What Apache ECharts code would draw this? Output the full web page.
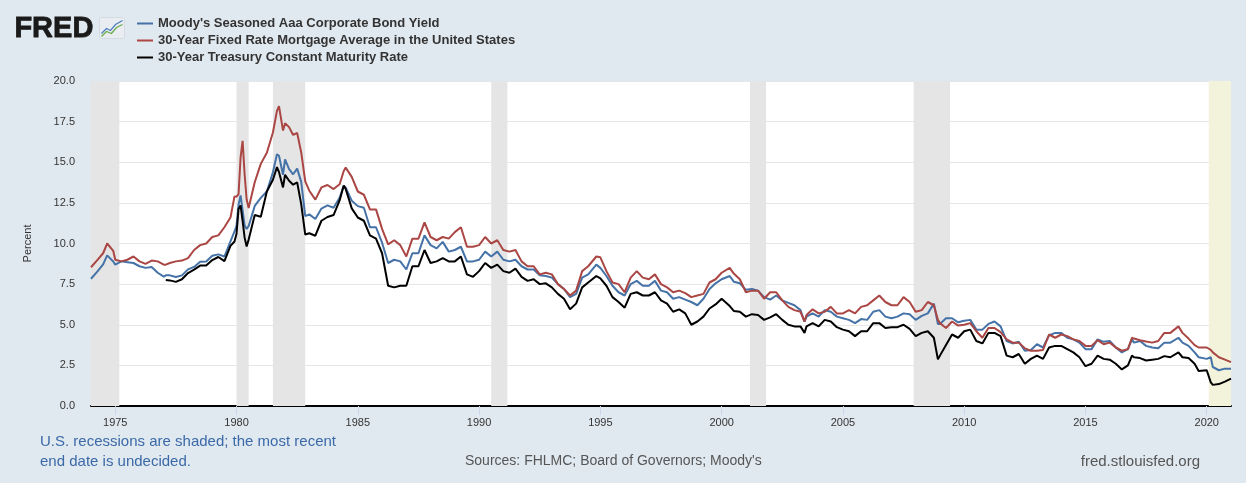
<!DOCTYPE html>
<html>
<head>
<meta charset="utf-8">
<title>FRED - Aaa, mortgage and 30-year treasury rates</title>
<script src="https://cdn.jsdelivr.net/npm/echarts@6.0.0/dist/echarts.min.js"></script>
<style>
  html, body { margin: 0; padding: 0; background: #e1e9f0; }
  #main { width: 1246px; height: 483px; }
</style>
</head>
<body>
<div id="main"></div>
<script>
// observation months (one line per year)
var dates = [
  '1974-01','1974-04','1974-07','1974-09','1974-12',
  '1975-01','1975-04','1975-07','1975-10',
  '1976-01','1976-04','1976-07','1976-10',
  '1977-01','1977-02','1977-04','1977-07','1977-10',
  '1978-01','1978-04','1978-07','1978-10',
  '1979-01','1979-04','1979-07','1979-10','1979-12',
  '1980-01','1980-02','1980-03','1980-04','1980-05','1980-06','1980-07','1980-10',
  '1981-01','1981-04','1981-07','1981-09','1981-10','1981-12',
  '1982-01','1982-03','1982-05','1982-07','1982-09','1982-11',
  '1983-01','1983-04','1983-07','1983-10',
  '1984-01','1984-04','1984-06','1984-07','1984-10',
  '1985-01','1985-04','1985-07','1985-10',
  '1986-01','1986-04','1986-07','1986-10',
  '1987-01','1987-04','1987-07','1987-10',
  '1988-01','1988-04','1988-07','1988-10',
  '1989-01','1989-04','1989-07','1989-10',
  '1990-01','1990-04','1990-07','1990-10',
  '1991-01','1991-04','1991-07','1991-10',
  '1992-01','1992-04','1992-07','1992-10',
  '1993-01','1993-04','1993-07','1993-10',
  '1994-01','1994-04','1994-07','1994-11',
  '1995-01','1995-04','1995-07','1995-10',
  '1996-01','1996-04','1996-07','1996-10',
  '1997-01','1997-04','1997-07','1997-10',
  '1998-01','1998-04','1998-07','1998-10',
  '1999-01','1999-04','1999-07','1999-10',
  '2000-01','2000-05','2000-07','2000-10',
  '2001-01','2001-04','2001-07','2001-10',
  '2002-01','2002-04','2002-07','2002-10',
  '2003-01','2003-04','2003-06','2003-07','2003-10',
  '2004-01','2004-04','2004-07','2004-10',
  '2005-01','2005-04','2005-07','2005-10',
  '2006-01','2006-04','2006-07','2006-10',
  '2007-01','2007-04','2007-07','2007-10',
  '2008-01','2008-04','2008-07','2008-10','2008-12',
  '2009-01','2009-04','2009-07','2009-10',
  '2010-01','2010-04','2010-07','2010-10',
  '2011-01','2011-04','2011-07','2011-10',
  '2012-01','2012-04','2012-07','2012-10',
  '2013-01','2013-04','2013-07','2013-10',
  '2014-01','2014-04','2014-07','2014-10',
  '2015-01','2015-04','2015-07','2015-10',
  '2016-01','2016-04','2016-07','2016-10','2016-12',
  '2017-01','2017-04','2017-07','2017-10',
  '2018-01','2018-04','2018-07','2018-11',
  '2019-01','2019-04','2019-07','2019-09',
  '2020-01','2020-03','2020-04','2020-07','2020-10',
  '2021-01'
]

// Moody's Seasoned Aaa Corporate Bond Yield
var aaa = [
  7.83, 8.25, 8.72, 9.27, 8.89,
  8.70, 8.90, 8.85, 8.80,
  8.60, 8.50, 8.55, 8.20,
  7.96, 8.04, 8.04, 7.94, 8.04,
  8.41, 8.56, 8.88, 8.89,
  9.25, 9.33, 9.20, 10.13, 10.74,
  11.09, 12.38, 12.96, 12.04, 11.10, 10.90, 11.07, 12.31,
  12.81, 13.20, 14.38, 15.49, 15.40, 14.23,
  15.18, 14.58, 14.26, 14.61, 13.79, 11.68,
  11.79, 11.51, 12.15, 12.35,
  12.20, 12.81, 13.55, 13.44, 12.63,
  12.30, 12.20, 11.00, 11.00,
  10.05, 8.80, 9.00, 8.90,
  8.40, 9.40, 9.40, 10.50,
  9.90, 9.70, 10.10, 9.50,
  9.60, 9.80, 8.90, 8.90,
  9.00, 9.50, 9.20, 9.50,
  9.00, 8.90, 9.00, 8.60,
  8.40, 8.40, 8.05, 8.00,
  7.90, 7.50, 7.20, 6.70,
  6.90, 7.90, 8.10, 8.70,
  8.50, 8.00, 7.40, 7.00,
  6.80, 7.50, 7.70, 7.40,
  7.40, 7.70, 7.10, 7.00,
  6.60, 6.70, 6.55, 6.40,
  6.20, 6.60, 7.20, 7.55,
  7.80, 8.00, 7.65, 7.55,
  7.15, 7.20, 7.10, 6.70,
  6.55, 6.80, 6.50, 6.35,
  6.20, 5.90, 5.20, 5.50, 5.70,
  5.50, 5.90, 5.80, 5.50,
  5.40, 5.30, 5.10, 5.35,
  5.30, 5.80, 5.90, 5.50,
  5.40, 5.50, 5.70, 5.65,
  5.30, 5.55, 5.70, 6.30, 5.05,
  5.05, 5.40, 5.40, 5.15,
  5.25, 5.30, 4.70, 4.70,
  5.05, 5.20, 4.90, 4.00,
  3.85, 3.95, 3.40, 3.45,
  3.80, 3.60, 4.35, 4.50,
  4.50, 4.20, 4.10, 3.90,
  3.50, 3.50, 4.10, 3.95,
  4.00, 3.60, 3.30, 3.50, 4.10,
  3.90, 4.00, 3.70, 3.60,
  3.55, 3.90, 3.90, 4.20,
  3.90, 3.70, 3.30, 3.00,
  2.90, 3.00, 2.40, 2.20, 2.30,
  2.30
]

// 30-Year Fixed Rate Mortgage Average
var mortgage = [
  8.54, 8.96, 9.40, 10.00, 9.55,
  9.00, 8.90, 9.00, 9.20,
  8.90, 8.75, 8.95, 8.90,
  8.70, 8.70, 8.80, 8.90, 8.95,
  9.10, 9.60, 9.90, 10.00,
  10.40, 10.50, 11.00, 11.60, 12.90,
  12.88, 13.04, 15.28, 16.32, 14.26, 12.71, 12.19, 13.77,
  14.90, 15.58, 16.83, 18.16, 18.45, 16.95,
  17.40, 17.16, 16.68, 16.80, 15.61, 13.82,
  13.25, 12.70, 13.45, 13.60,
  13.35, 13.65, 14.45, 14.67, 14.10,
  13.20, 13.00, 12.10, 12.10,
  10.90, 9.95, 10.20, 9.90,
  9.20, 10.30, 10.30, 11.30,
  10.40, 10.20, 10.40, 10.30,
  10.70, 11.00, 9.80, 9.80,
  9.90, 10.40, 10.00, 10.20,
  9.60, 9.50, 9.60, 8.90,
  8.60, 8.60, 8.10, 8.20,
  8.10, 7.50, 7.20, 6.80,
  7.10, 8.30, 8.60, 9.20,
  9.15, 8.30, 7.60, 7.50,
  7.00, 7.90, 8.30, 7.90,
  7.80, 8.10, 7.50, 7.30,
  7.00, 7.10, 6.95, 6.70,
  6.80, 6.90, 7.60, 7.80,
  8.20, 8.50, 8.15, 7.80,
  7.00, 7.10, 7.10, 6.60,
  7.00, 7.00, 6.50, 6.10,
  5.90, 5.80, 5.20, 5.60, 5.95,
  5.70, 5.80, 6.10, 5.70,
  5.70, 5.90, 5.70, 6.10,
  6.20, 6.50, 6.80, 6.40,
  6.20, 6.20, 6.70, 6.40,
  5.80, 5.90, 6.40, 6.20, 5.30,
  5.10, 4.80, 5.20, 4.95,
  5.00, 5.10, 4.60, 4.20,
  4.80, 4.80, 4.55, 4.10,
  3.90, 3.90, 3.55, 3.40,
  3.40, 3.45, 4.40, 4.20,
  4.40, 4.30, 4.10, 4.00,
  3.70, 3.70, 4.05, 3.80,
  3.90, 3.60, 3.40, 3.50, 4.20,
  4.15, 4.05, 3.97, 3.90,
  4.00, 4.50, 4.50, 4.90,
  4.50, 4.15, 3.75, 3.60,
  3.60, 3.45, 3.30, 3.00, 2.85,
  2.70
]

// 30-Year Treasury Constant Maturity Rate (starts Feb 1977)
var treasury = [
  null, null, null, null, null,
  null, null, null, null,
  null, null, null, null,
  null, 7.75, 7.73, 7.64, 7.80,
  8.18, 8.39, 8.64, 8.64,
  8.98, 9.17, 8.92, 9.85, 10.12,
  10.60, 12.13, 12.34, 11.40, 10.36, 9.81, 10.24, 11.75,
  11.65, 13.20, 13.92, 14.70, 14.40, 13.45,
  14.22, 13.86, 13.62, 13.76, 12.42, 10.55,
  10.63, 10.48, 11.40, 11.63,
  11.75, 12.65, 13.56, 13.36, 12.16,
  11.60, 11.40, 10.50, 10.30,
  9.40, 7.40, 7.30, 7.40,
  7.40, 8.60, 8.60, 9.60,
  8.80, 8.90, 9.10, 8.90,
  8.90, 9.20, 8.10, 7.95,
  8.30, 8.80, 8.50, 8.70,
  8.30, 8.20, 8.45, 7.95,
  7.70, 7.80, 7.50, 7.55,
  7.30, 6.90, 6.60, 5.95,
  6.30, 7.30, 7.60, 8.00,
  7.85, 7.40, 6.70, 6.40,
  6.05, 6.90, 7.00, 6.80,
  6.80, 7.00, 6.50, 6.30,
  5.80, 5.95, 5.70, 5.00,
  5.20, 5.50, 6.00, 6.25,
  6.60, 6.15, 5.85, 5.80,
  5.50, 5.65, 5.60, 5.30,
  5.45, 5.65, 5.30, 5.00,
  4.90, 4.90, 4.50, 4.90, 5.10,
  4.90, 5.30, 5.20, 4.85,
  4.70, 4.60, 4.30, 4.60,
  4.60, 5.10, 5.10, 4.80,
  4.85, 4.85, 5.00, 4.75,
  4.30, 4.50, 4.60, 4.20, 2.87,
  3.10, 3.75, 4.40, 4.20,
  4.60, 4.70, 4.00, 3.85,
  4.50, 4.50, 4.30, 3.10,
  3.00, 3.20, 2.60, 2.90,
  3.10, 2.90, 3.60, 3.70,
  3.70, 3.50, 3.30, 3.00,
  2.45, 2.60, 3.10, 2.90,
  2.85, 2.60, 2.25, 2.50, 3.10,
  3.00, 2.95, 2.80, 2.85,
  2.90, 3.07, 3.00, 3.30,
  3.00, 2.95, 2.60, 2.15,
  2.20, 1.45, 1.30, 1.35, 1.50,
  1.68
]

// US recessions [start, end]; the last one has no end date yet
var recessions = [
  ['1973-11', '1975-03'],
  ['1980-01', '1980-07'],
  ['1981-07', '1982-11'],
  ['1990-07', '1991-03'],
  ['2001-03', '2001-11'],
  ['2007-12', '2009-06'],
  ['2020-02', '2021-01']
]

var tickYears = [1975, 1980, 1985, 1990, 1995, 2000, 2005, 2010, 2015, 2020]

var seriesNames = [
  "Moody's Seasoned Aaa Corporate Bond Yield",
  '30-Year Fixed Rate Mortgage Average in the United States',
  '30-Year Treasury Constant Maturity Rate'
]

// 'YYYY-MM' -> fractional year for the x value axis
function yearOf(s) {
  var p = s.split('-')
  return +p[0] + (+p[1] - 1) / 12
}

function pairs(values) {
  return dates.map(function (d, i) { return [yearOf(d), values[i]] })
}

var bands = recessions.map(function (r, i) {
  var last = i === recessions.length - 1
  return [
    { xAxis: Math.max(yearOf(r[0]), 1974), itemStyle: { color: last ? '#f3f3dc' : '#e5e5e5' } },
    { xAxis: yearOf(r[1]) }
  ]
})

var font = "'Liberation Sans', Arial, Helvetica, sans-serif"

var chart = echarts.init(document.getElementById('main'))

var option = {
  animation: false,
  backgroundColor: '#e1e9f0',
  textStyle: { fontFamily: font },
  grid: {
    left: 91, right: 15, top: 81, bottom: 77,
    show: true, backgroundColor: '#ffffff', borderWidth: 0
  },
  legend: {
    data: seriesNames,
    orient: 'vertical',
    left: 137, top: 16,
    padding: 0,
    itemGap: 2,
    itemWidth: 16, itemHeight: 2,
    icon: 'rect',
    textStyle: { color: '#333', fontSize: 13, fontWeight: 'bold', lineHeight: 15 }
  },
  xAxis: {
    type: 'value',
    min: 1974,
    max: 2021,
    axisLine: { onZero: true, lineStyle: { color: '#000', width: 2 } },
    axisTick: { show: true, length: 9, lineStyle: { color: '#ccd6eb' }, customValues: tickYears },
    axisLabel: {
      color: '#333', fontSize: 11, margin: 11,
      customValues: tickYears,
      formatter: function (v) { return String(Math.round(v)) }
    },
    splitLine: { show: false }
  },
  yAxis: {
    type: 'value',
    min: 0, max: 20, interval: 2.5,
    name: 'Percent',
    nameLocation: 'middle',
    nameRotate: 90,
    nameGap: 58,
    nameTextStyle: { color: '#333', fontSize: 11 },
    axisLine: { show: false },
    axisTick: { show: false },
    axisLabel: {
      color: '#333', fontSize: 11, margin: 16,
      formatter: function (v) { return v.toFixed(1) }
    },
    splitLine: { lineStyle: { color: '#e6e6e6', width: 1 } }
  },
  graphic: [
    {
      type: 'text', left: 14, top: 14,
      style: { text: 'FRED', font: 'bold 29px ' + font, fill: '#1a1a1a', stroke: '#1a1a1a', lineWidth: 0.8 }
    },
    {
      type: 'group', left: 99, top: 17,
      children: [
        { type: 'rect', shape: { x: 0, y: 0, width: 25, height: 21, r: 2 },
          style: { fill: '#e9edf1', stroke: '#d5dbe2', lineWidth: 1 } },
        { type: 'polyline', shape: { points: [[2, 16], [7, 11], [11, 13], [16, 7], [23, 3]] },
          style: { stroke: '#4f7fc0', lineWidth: 1.3, fill: null } },
        { type: 'polyline', shape: { points: [[2, 19], [7, 14], [12, 16], [17, 10], [23, 7]] },
          style: { stroke: '#6cab4a', lineWidth: 1.3, fill: null } }
      ]
    },
    {
      type: 'text', left: 40, top: 434,
      style: { text: 'U.S. recessions are shaded; the most recent', font: '15px ' + font, fill: '#3b69a8' }
    },
    {
      type: 'text', left: 40, top: 454,
      style: { text: 'end date is undecided.', font: '15px ' + font, fill: '#3b69a8' }
    },
    {
      type: 'text', left: 465, top: 454,
      style: { text: "Sources: FHLMC; Board of Governors; Moody's", font: '14px ' + font, fill: '#555' }
    },
    {
      type: 'text', right: 46, top: 454,
      style: { text: 'fred.stlouisfed.org', font: '15px ' + font, fill: '#555' }
    }
  ],
  series: [
    {
      name: 'recessions',
      type: 'line',
      data: [],
      z: 1,
      silent: true,
      markArea: { silent: true, data: bands }
    },
    {
      name: seriesNames[0], type: 'line', z: 3,
      symbol: 'none', color: '#4572a7',
      lineStyle: { width: 2 },
      data: pairs(aaa)
    },
    {
      name: seriesNames[1], type: 'line', z: 4,
      symbol: 'none', color: '#aa4643',
      lineStyle: { width: 2 },
      data: pairs(mortgage)
    },
    {
      name: seriesNames[2], type: 'line', z: 5,
      symbol: 'none', color: '#000000',
      lineStyle: { width: 2 },
      data: pairs(treasury)
    }
  ]
}

chart.setOption(option)
</script>
</body>
</html>
